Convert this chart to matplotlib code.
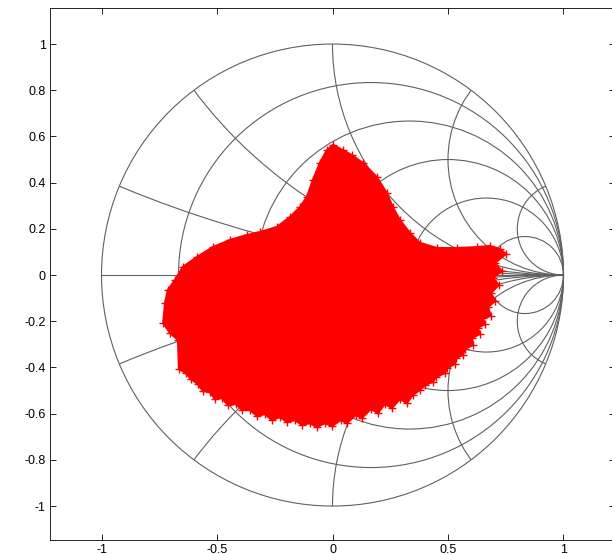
import numpy as np
import matplotlib.pyplot as plt
from matplotlib.patches import Circle

plt.rcParams['font.family'] = ['Liberation Sans', 'DejaVu Sans']

# Smith chart grid: constant-resistance circles and constant-reactance arcs
r_values = [0.2, 0.5, 1, 2, 5]
x_values = [0.2, 0.5, 1, 2, 5]

# outline of the swept reflection coefficient region (real, imag)
blob_re = [0.002, 0.045, 0.084, 0.132, 0.192, 0.235, 0.261, 0.292, 0.335, 0.378,
           0.452, 0.539, 0.625, 0.681, 0.725, 0.751,
           0.703, 0.733, 0.694, 0.720, 0.686, 0.703, 0.673, 0.686, 0.651, 0.660,
           0.629, 0.638, 0.603, 0.608, 0.573, 0.565, 0.534, 0.530, 0.495, 0.487,
           0.448, 0.434, 0.400, 0.378, 0.348,
           0.322, 0.292, 0.257, 0.227, 0.197, 0.166, 0.127, 0.101, 0.062, 0.036,
           -0.003, -0.033, -0.068, -0.098, -0.132, -0.163, -0.197, -0.228, -0.262, -0.293,
           -0.327, -0.358, -0.392, -0.418, -0.453, -0.479, -0.509, -0.531, -0.561, -0.583,
           -0.613, -0.635, -0.665,
           -0.669, -0.703, -0.733, -0.725, -0.713, -0.682, -0.648, -0.587, -0.518, -0.444,
           -0.371, -0.314, -0.241, -0.184, -0.141, -0.111, -0.085, -0.055, -0.024]
blob_im = [0.563, 0.541, 0.519, 0.485, 0.424, 0.355, 0.294, 0.238, 0.182, 0.139,
           0.117, 0.117, 0.121, 0.126, 0.113, 0.091,
           0.052, 0.017, -0.013, -0.043, -0.078, -0.113, -0.139, -0.177, -0.186, -0.212,
           -0.229, -0.255, -0.273, -0.303, -0.320, -0.346, -0.359, -0.385, -0.403, -0.424,
           -0.442, -0.463, -0.476, -0.498, -0.519,
           -0.554, -0.537, -0.576, -0.558, -0.597, -0.580, -0.619, -0.606, -0.641, -0.628,
           -0.654, -0.641, -0.658, -0.641, -0.649, -0.628, -0.636, -0.615, -0.628, -0.602,
           -0.610, -0.584, -0.584, -0.558, -0.563, -0.532, -0.537, -0.506, -0.502, -0.472,
           -0.450, -0.424, -0.407,
           -0.281, -0.251, -0.208, -0.121, -0.065, -0.022, 0.035, 0.078, 0.121, 0.152,
           0.173, 0.186, 0.208, 0.251, 0.294, 0.338, 0.411, 0.485, 0.541]

x_ticks = [-1, -0.5, 0, 0.5, 1]
x_tick_labels = ['-1', '-0.5', '0', '0.5', '1']
y_ticks = [-1, -0.8, -0.6, -0.4, -0.2, 0, 0.2, 0.4, 0.6, 0.8, 1]
y_tick_labels = ['-1', '-0.8', '-0.6', '-0.4', '-0.2', '0', '0.2', '0.4', '0.6', '0.8', '1']

fig = plt.figure(figsize=(6.12, 5.54), dpi=100)
ax = fig.add_axes([50 / 612, 14 / 554, 565 / 612, 532 / 554])

grid_color = '#606060'
grid_lw = 0.8
unit_clip = Circle((0, 0), 1, transform=ax.transData)

ax.add_patch(Circle((0, 0), 1, fill=False, ec=grid_color, lw=grid_lw, zorder=1))
ax.plot([-1, 1], [0, 0], color=grid_color, lw=grid_lw, zorder=1)
for r in r_values:
    ax.add_patch(Circle((r / (1 + r), 0), 1 / (1 + r), fill=False,
                        ec=grid_color, lw=grid_lw, zorder=1))
for x in x_values:
    for sign in (1, -1):
        arc = Circle((1, sign / x), 1 / x, fill=False, ec=grid_color, lw=grid_lw, zorder=1)
        ax.add_patch(arc)
        arc.set_clip_path(unit_clip)

ax.fill(blob_re, blob_im, facecolor='red', edgecolor='red', lw=1.5, zorder=3)
ax.plot(blob_re, blob_im, '+', color='red', ms=6, mew=1, zorder=3)

ax.set_xlim(-1.223, 1.223)
ax.set_ylim(-1.147, 1.156)
ax.set_xticks(x_ticks)
ax.set_xticklabels(x_tick_labels)
ax.set_yticks(y_ticks)
ax.set_yticklabels(y_tick_labels)
ax.tick_params(direction='in', top=True, right=True, length=4, width=0.6,
               labelsize=9, pad=3)
for spine in ax.spines.values():
    spine.set_linewidth(0.6)

fig.savefig('out.png', dpi=100)
